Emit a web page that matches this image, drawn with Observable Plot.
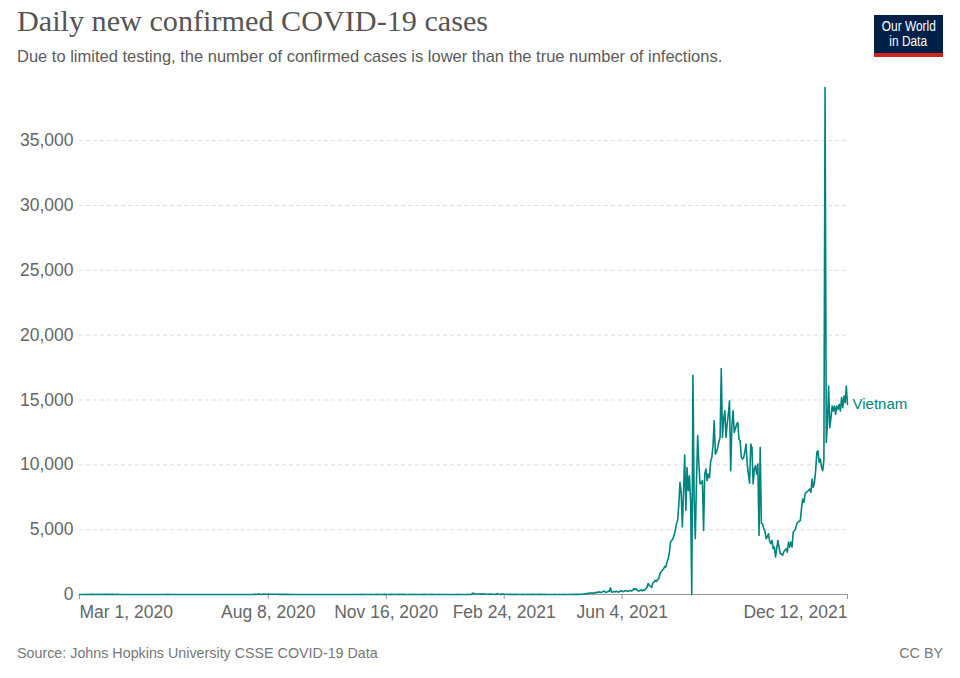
<!DOCTYPE html>
<html>
<head>
<meta charset="utf-8">
<script src="https://cdn.jsdelivr.net/npm/d3@7"></script>
<script src="https://cdn.jsdelivr.net/npm/@observablehq/plot@0.6"></script>
<style>
  html, body { margin: 0; padding: 0; background: #fff; }
  #page { position: relative; width: 960px; height: 678px; overflow: hidden; font-family: "Liberation Sans", Arial, sans-serif; }
  #title { position: absolute; left: 17px; top: 4px; font-family: "Liberation Serif", "DejaVu Serif", serif; font-size: 30.2px; color: #555; white-space: nowrap; }
  #subtitle { position: absolute; left: 17px; top: 47px; font-size: 16.5px; color: #5b5b5b; white-space: nowrap; }
  #logo { position: absolute; left: 874px; top: 15px; width: 69px; background: #002147; border-bottom: 4px solid #ce261e; color: #fff; font-size: 14px; line-height: 15px; text-align: center; padding-top: 4px; height: 34px; }
  #logo span { display: inline-block; transform: scaleX(0.85); transform-origin: center; white-space: nowrap; }
  #chart { position: absolute; left: 0; top: 70px; }
  #source { position: absolute; left: 17px; top: 645px; font-size: 14.3px; color: #777; white-space: nowrap; }
  #license { position: absolute; right: 17px; top: 645px; font-size: 14.3px; color: #777; }
</style>
</head>
<body>
<div id="page">
  <div id="title">Daily new confirmed COVID-19 cases</div>
  <div id="subtitle">Due to limited testing, the number of confirmed cases is lower than the true number of infections.</div>
  <div id="logo"><span>Our World</span><br><span>in Data</span></div>
  <div id="chart"></div>
  <div id="source">Source: Johns Hopkins University CSSE COVID-19 Data</div>
  <div id="license">CC BY</div>
</div>
<script>
// ---- Data: daily new confirmed cases, Vietnam ----
const countryName = "Vietnam";

const mar2020 = [0,0,0,0,0,1,13,4,1,8,8,8,6,5,4,9,5,11,10,4,7,19,11,11,7,7,14,5,9,10,4];
const apr2020 = [3,15,4,4,1,4,4,2,0,4,2,2,3,3,1,2,0,0,0,1,0,0,0,0,0,2,0,0,0,0];
const may2020 = [0,0,0,0,0,0,0,0,0,0,0,0,0,0,24,0,2,0,0,0,0,3,0,0,0,2,1,0,0,0,3];
const jun2020 = [0,0,0,0,0,0,1,0,0,0,0,3,1,0,0,0,0,0,0,0,0,0,0,0,0,0,0,0,3,0];
const jul2020 = [0,0,0,0,0,0,0,0,0,0,0,0,0,3,0,0,0,0,0,0,1,2,0,2,1,2,11,6,9,14,45];
const aug2020 = [12,11,21,40,30,18,23,31,25,20,21,16,14,15,16,22,8,11,8,3,11,15,13,7,3,9,2,2,5,4,3];
const sep2020 = [2,5,3,0,2,0,2,4,1,2,3,0,2,1,0,2,3,0,1,0,2,5,3,0,3,2,4,0,0,1];
const oct2020 = [3,2,0,1,0,5,1,3,1,3,2,1,3,0,3,2,1,1,4,3,0,5,2,1,7,4,2,12,1,0,3];
const nov2020 = [2,4,7,2,0,4,3,11,8,2,3,4,2,9,8,3,5,4,0,6,11,3,4,5,8,2,10,9,5,6];
const dec2020 = [7,2,5,0,0,3,11,3,1,9,5,3,2,3,1,4,6,2,6,2,1,4,4,8,6,5,3,4,5,2,10];
const jan2021 = [2,1,1,1,4,0,3,3,1,2,3,3,0,5,2,8,4,1,2,1,5,1,0,2,1,3,2,84,91,54,20];
const feb2021 = [35,40,34,29,45,53,44,36,18,15,25,40,43,20,18,16,12,57,33,21,11,27,26,18,15,14,5,6];
const mar2021 = [10,7,5,9,13,5,8,3,5,4,6,7,2,3,2,7,3,5,8,6,6,4,3,4,8,6,4,7,3,6,5];
const apr2021 = [2,3,4,1,5,2,4,6,5,3,3,8,5,2,4,8,3,5,1,2,11,5,7,5,10,9,7,15,12,20];
const may2021 = [24,40,55,52,70,85,80,123,110,96,130,117,168,145,200,183,155,191,230,270,160,177,250,235,510,200,186,240,190,250,210];
const jun2021 = [180,230,300,250,220,280,300,260,240,290,310,280,330,460,380,430,300,260,310,350,280,350,320,460,540,850,700,640,540,900];
const jul2021 = [950,1100,1000,1150,1230,1600,1750,1870,1950,2150,2125,2500,2765,3200,4045,4170,4300,4560,4940,5450,5700,6900,8650,7880,5200,7900,10750,6480,9800,8000,9160];
const aug2021 = [7240,0,16900,7370,4300,8800,12240,10060,8520,8600,8780,4940,9290,9680,8780,9290,9030,10300,10570,11500,13390,10830,11000,11340,11800,12110,17430,12110,13500,14160,12110];
const sep2021 = [13130,13900,14930,9550,13000,14160,12490,12800,13130,13260,11980,11850,10570,10440,10570,11000,11600,10060,9290,8580,11600,11340,8520,9680,9930,9290,10060,4560,11340,5500];
const oct2021 = [5450,5060,4900,4300,4430,4690,4100,3920,4170,3530,3660,2890,3530,4170,3660,3150,3150,3020,3300,3400,3530,3270,4040,3660,4040,3660,4810,4900,5060,5450,5580];
const nov2021 = [5650,5700,6600,7370,7110,7750,7880,7950,8010,8140,7880,8910,8270,8650,9550,10950,11080,10180,10440,9800,9550,10400,39100,11720,13130,16080,12870,13640,14540,14150];
const dec2021 = [14540,13900,14540,14280,14670,14150,15180,14410,15300,14800,16080,14650];

const monthStarts = ["2020-03-01","2020-04-01","2020-05-01","2020-06-01","2020-07-01","2020-08-01","2020-09-01","2020-10-01","2020-11-01","2020-12-01","2021-01-01","2021-02-01","2021-03-01","2021-04-01","2021-05-01","2021-06-01","2021-07-01","2021-08-01","2021-09-01","2021-10-01","2021-11-01","2021-12-01"];
const monthValues = [mar2020,apr2020,may2020,jun2020,jul2020,aug2020,sep2020,oct2020,nov2020,dec2020,jan2021,feb2021,mar2021,apr2021,may2021,jun2021,jul2021,aug2021,sep2021,oct2021,nov2021,dec2021];

const xTickDates = ["2020-03-01","2020-08-08","2020-11-16","2021-02-24","2021-06-04","2021-12-12"];
const yTicks = [0,5000,10000,15000,20000,25000,30000,35000];

// ---- Build table ----
const data = monthStarts.flatMap((s, k) => monthValues[k].map((v, i) => ({
  date: d3.utcDay.offset(new Date(s + "T00:00:00Z"), i),
  cases: v
})));
const ticks = xTickDates.map(s => new Date(s + "T00:00:00Z"));
const fmt = d3.utcFormat("%b %-d, %Y");
const numFmt = d3.format(",");
const last = data[data.length - 1];
const teal = "#00847e";
const labelFont = 17.5;

const chart = Plot.plot({
  width: 960,
  height: 554,
  marginLeft: 79,
  marginRight: 113,
  marginTop: 17,
  marginBottom: 30,
  style: { fontFamily: "'Liberation Sans', Arial, sans-serif", fontSize: "17px", color: "#666", background: "transparent", overflow: "visible" },
  x: { type: "utc", domain: [ticks[0], ticks[ticks.length - 1]] },
  y: { domain: [0, d3.max(data, d => d.cases)] },
  marks: [
    Plot.gridY(yTicks.filter(t => t > 0), { stroke: "#dddddd", strokeOpacity: 1, strokeDasharray: "4,3" }),
    Plot.axisY({ ticks: yTicks, tickSize: 0, tickPadding: 6, tickFormat: d => numFmt(d), fontSize: labelFont, fill: "#666", label: null }),
    Plot.ruleY([0], { stroke: "#999" }),
    Plot.axisX({ ticks: ticks, tickSize: 5, tickFormat: () => "", stroke: "#999", label: null }),
    Plot.text(ticks.slice(0, 1), { x: d => d, y: 0, text: d => fmt(d), textAnchor: "start", dy: 18, fontSize: labelFont, fill: "#666" }),
    Plot.text(ticks.slice(1, -1), { x: d => d, y: 0, text: d => fmt(d), textAnchor: "middle", dy: 18, fontSize: labelFont, fill: "#666" }),
    Plot.text(ticks.slice(-1), { x: d => d, y: 0, text: d => fmt(d), textAnchor: "end", dy: 18, fontSize: labelFont, fill: "#666" }),
    Plot.lineY(data, { x: "date", y: "cases", stroke: teal, strokeWidth: 1.6, strokeLinejoin: "round" }),
    Plot.text([last], { x: "date", y: "cases", text: () => countryName, textAnchor: "start", dx: 5, fontSize: 15, fill: teal })
  ]
});
document.getElementById("chart").appendChild(chart);
</script>
</body>
</html>
